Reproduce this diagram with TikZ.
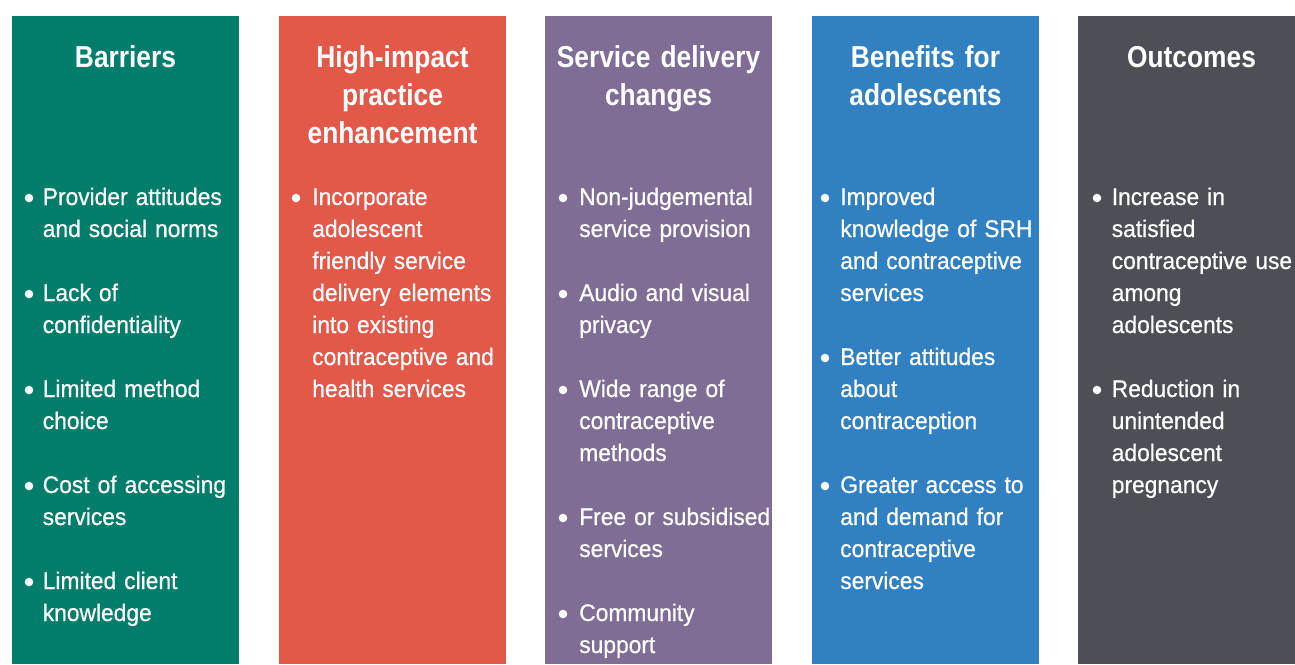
\documentclass[tikz,border=0pt]{standalone}
\usepackage{fontspec}
\setmainfont{Liberation Sans}
\newfontfamily\bodyfont[FakeStretch=0.95,FakeBold=0.6]{Liberation Sans}
\newfontfamily\titlefont[FakeStretch=0.87]{Liberation Sans}
\definecolor{cgreen}{HTML}{007D6B}
\definecolor{cred}{HTML}{E25849}
\definecolor{cpurple}{HTML}{7F6D96}
\definecolor{cblue}{HTML}{3181C2}
\definecolor{cgrey}{HTML}{4D4F57}
\begin{document}
\begin{tikzpicture}[x=0.75pt,y=-0.75pt,
  body/.style={font=\bodyfont\fontsize{18}{24}\selectfont, text=white, anchor=base west, inner sep=0pt, text width=200pt, align=left},
  ttl/.style={font=\titlefont\bfseries\fontsize{22.7}{28.7}\selectfont, text=white, anchor=base, inner sep=0pt, text width=170pt, align=center},
  dot/.style={fill=white}]
\useasboundingbox (0,0) rectangle (1295,664);
% columns
\fill[cgreen]  (12,16)   rectangle (239,664);
\fill[cred]    (279,16)  rectangle (506,664);
\fill[cpurple] (545,16)  rectangle (772,664);
\fill[cblue]   (812,16)  rectangle (1039,664);
\fill[cgrey]   (1078,16) rectangle (1295,664);
% titles
\node[ttl] (t1) at (125.5,67) {Barriers};
\node[ttl] (t2) at (392.5,67) {High-impact\\practice\\enhancement};
\node[ttl] (t3) at (658.5,67) {Service delivery\\changes};
\node[ttl] (t4) at (925.5,67) {Benefits for\\adolescents};
\node[ttl] (t5) at (1191.5,67) {Outcomes};
% column 1
\foreach \y in {205,301,397,493,589} \fill[dot] (29,\y-7) circle (3.2pt);
\node[body] (b11) at (42.5,205) {Provider attitudes\\and social norms};
\node[body] (b12) at (42.5,301) {Lack of\\confidentiality};
\node[body] (b13) at (42.5,397) {Limited method\\choice};
\node[body] (b14) at (42.5,493) {Cost of accessing\\services};
\node[body] (b15) at (42.5,589) {Limited client\\knowledge};
% column 2
\fill[dot] (296,198) circle (3.2pt);
\node[body] (b21) at (312,205) {Incorporate\\adolescent\\friendly service\\delivery elements\\into existing\\contraceptive and\\health services};
% column 3
\foreach \y in {205,301,397,525,621} \fill[dot] (563,\y-7) circle (3.2pt);
\node[body] (b31) at (579,205) {Non-judgemental\\service provision};
\node[body] (b32) at (579,301) {Audio and visual\\privacy};
\node[body] (b33) at (579,397) {Wide range of\\contraceptive\\methods};
\node[body] (b34) at (579,525) {Free or subsidised\\services};
\node[body] (b35) at (579,621) {Community\\support};
% column 4
\foreach \y in {205,365,493} \fill[dot] (825,\y-7) circle (3.2pt);
\node[body] (b41) at (840,205) {Improved\\knowledge of SRH\\and contraceptive\\services};
\node[body] (b42) at (840,365) {Better attitudes\\about\\contraception};
\node[body] (b43) at (840,493) {Greater access to\\and demand for\\contraceptive\\services};
% column 5
\foreach \y in {205,397} \fill[dot] (1097,\y-7) circle (3.2pt);
\node[body] (b51) at (1111.5,205) {Increase in\\satisfied\\contraceptive use\\among\\adolescents};
\node[body] (b52) at (1111.5,397) {Reduction in\\unintended\\adolescent\\pregnancy};
\end{tikzpicture}
\end{document}
